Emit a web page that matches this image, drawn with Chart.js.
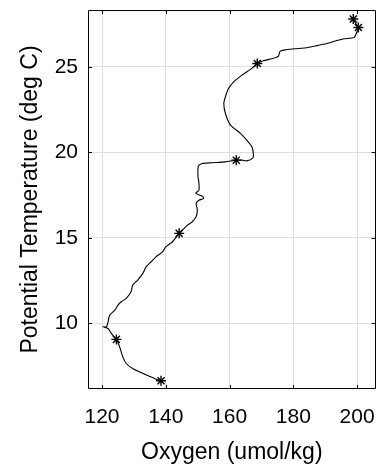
<!DOCTYPE html>
<html>
<head>
<meta charset="utf-8">
<script src="https://cdn.jsdelivr.net/npm/chart.js@4"></script>
<style>
  html, body { margin: 0; padding: 0; background: #fff; }
  #wrap { width: 382px; height: 466px; }
</style>
</head>
<body>
<div id="wrap"><canvas id="chart" width="382" height="466"></canvas></div>
<script>
// profile, bottom (cold) to top (warm)
const oxygen = [138.5, 136.4, 134.8, 132.3, 129.6, 127.6, 126.5, 125.5, 124.5, 122.9, 121.9, 120.3, 121.4, 121.9,
  122.4, 124.0, 125.0, 126.0, 127.6, 129.1, 129.6, 131.2, 132.8, 133.8, 135.4, 136.9, 139.0, 140.0, 142.1, 144.2,
  145.2, 146.8, 148.3, 149.5, 149.9, 149.5, 150.4, 151.9, 151.4, 149.4, 150.4, 150.4, 150.1, 150.2, 151.4, 154.5,
  158.7, 162.1, 163.9, 165.4, 167.2, 167.5, 167.0, 165.4, 163.4, 160.3, 158.7, 158.2, 158.7, 159.7, 161.3, 163.9,
  167.0, 168.7, 170.6, 173.2, 175.3, 175.8, 177.4, 180.5, 184.6, 187.7, 189.8, 193.4, 196.0, 199.1, 200.2, 200.4,
  199.5, 198.8, 198.9];
const temperature = [6.64, 6.78, 6.91, 7.11, 7.36, 7.65, 8.04, 8.63, 9.06, 9.41, 9.70, 9.80, 9.80, 10.09,
  10.48, 10.77, 11.06, 11.26, 11.46, 11.84, 12.23, 12.53, 12.92, 13.30, 13.60, 13.89, 14.18, 14.47, 14.77, 15.26,
  15.45, 15.74, 15.94, 16.23, 16.62, 17.01, 17.20, 17.30, 17.44, 17.60, 17.79, 18.18, 18.57, 19.19, 19.35, 19.39,
  19.44, 19.54, 19.54, 19.50, 19.64, 19.84, 20.32, 20.71, 21.11, 21.59, 22.27, 22.86, 23.25, 23.74, 24.12, 24.51,
  24.91, 25.19, 25.35, 25.47, 25.61, 25.90, 25.99, 26.05, 26.13, 26.25, 26.33, 26.52, 26.64, 26.72, 27.16, 27.30,
  27.56, 27.79, 27.96];

// bottle samples (star markers)
const sampleOxygen = [138.5, 124.5, 144.2, 162.1, 168.7, 200.4, 198.8];
const sampleTemp = [6.64, 9.06, 15.26, 19.54, 25.19, 27.30, 27.79];

const xTicks = [120, 140, 160, 180, 200];
const yTicks = [10, 15, 20, 25];
const xRange = [115.6, 205.8];
const yRange = [6.16, 28.32];

const fontFamily = "'Liberation Sans', Arial, Helvetica, sans-serif";

function noOverflow(s) {
  s.paddingLeft = 0;
  s.paddingRight = 0;
  s.paddingTop = 0;
  s.paddingBottom = 0;
}

const boxPlugin = {
  id: "box",
  afterDatasetsDraw(chart) {
    const { ctx, chartArea: a, scales } = chart;
    ctx.save();
    ctx.strokeStyle = "#000";
    ctx.lineWidth = 1;
    ctx.beginPath();
    ctx.rect(Math.round(a.left) + 0.5, Math.round(a.top) + 0.5,
      Math.round(a.right - a.left) - 1, Math.round(a.bottom - a.top) - 1);
    xTicks.forEach((v) => {
      const px = Math.round(scales.x.getPixelForValue(v)) + 0.5;
      ctx.moveTo(px, a.bottom); ctx.lineTo(px, a.bottom - 4);
      ctx.moveTo(px, a.top); ctx.lineTo(px, a.top + 4);
    });
    yTicks.forEach((v) => {
      const py = Math.round(scales.y.getPixelForValue(v)) + 0.5;
      ctx.moveTo(a.left, py); ctx.lineTo(a.left + 4, py);
      ctx.moveTo(a.right, py); ctx.lineTo(a.right - 4, py);
    });
    ctx.stroke();
    ctx.restore();
  },
};

const profile = oxygen.map((x, i) => ({ x, y: temperature[i] }));
const samples = sampleOxygen.map((x, i) => ({ x, y: sampleTemp[i] }));

new Chart(document.getElementById("chart"), {
  type: "scatter",
  data: {
    datasets: [
      {
        data: profile,
        showLine: true,
        borderColor: "#000",
        borderWidth: 1.1,
        pointRadius: 0,
        tension: 0.2,
      },
      {
        data: samples,
        showLine: false,
        pointStyle: "star",
        pointRadius: 5,
        borderColor: "#000",
        backgroundColor: "#000",
        borderWidth: 1.4,
      },
    ],
  },
  options: {
    responsive: false,
    animation: false,
    layout: { padding: { left: 0, right: 4, top: 10, bottom: 0 } },
    plugins: { legend: { display: false }, tooltip: { enabled: false } },
    scales: {
      x: {
        type: "linear",
        min: xRange[0],
        max: xRange[1],
        afterBuildTicks: (s) => { s.ticks = xTicks.map((value) => ({ value })); },
        afterFit: (s) => { s.height = 77; noOverflow(s); },
        grid: { color: "#dedede", drawTicks: false },
        border: { display: false },
        ticks: { color: "#000", padding: 16, font: { family: fontFamily, size: 21 } },
        title: {
          display: true,
          text: "Oxygen (umol/kg)",
          color: "#000",
          padding: { top: 2, bottom: 0 },
          font: { family: fontFamily, size: 23 },
        },
      },
      y: {
        type: "linear",
        min: yRange[0],
        max: yRange[1],
        afterBuildTicks: (s) => { s.ticks = yTicks.map((value) => ({ value })); },
        afterFit: (s) => { s.width = 88; noOverflow(s); },
        grid: { color: "#dedede", drawTicks: false },
        border: { display: false },
        ticks: { color: "#000", padding: 10, font: { family: fontFamily, size: 21 } },
        title: {
          display: true,
          text: "Potential Temperature (deg C)",
          color: "#000",
          padding: { top: 17, bottom: 0 },
          font: { family: fontFamily, size: 23 },
        },
      },
    },
  },
  plugins: [boxPlugin],
});
</script>
</body>
</html>
